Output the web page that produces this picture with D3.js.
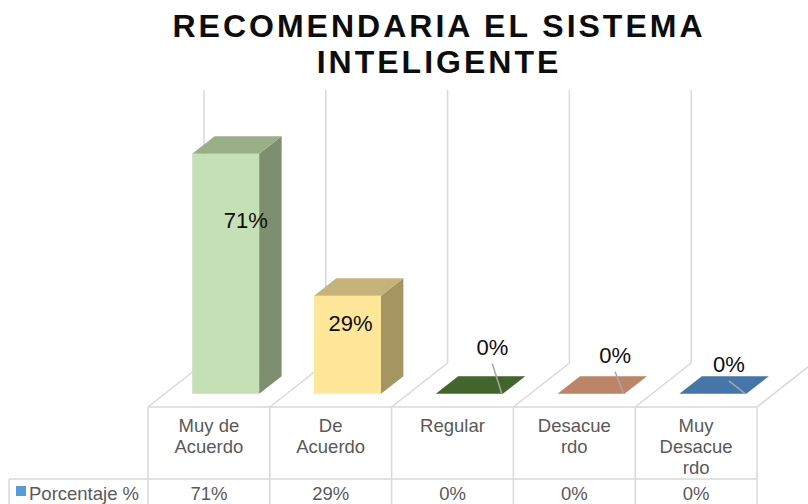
<!DOCTYPE html>
<html>
<head>
<meta charset="utf-8">
<script src="https://cdn.jsdelivr.net/npm/d3@7"></script>
<style>
  body { margin: 0; background: #fff; }
  svg { display: block; font-family: "Liberation Sans", Arial, sans-serif; }
</style>
</head>
<body>
<script>
// data
const categories = ['Muy de Acuerdo', 'De Acuerdo', 'Regular', 'Desacuerdo', 'Muy Desacuerdo']
const tickLabels = [['Muy de', 'Acuerdo'], ['De', 'Acuerdo'], ['Regular'], ['Desacue', 'rdo'], ['Muy', 'Desacue', 'rdo']]
const values = [71, 29, 0, 0, 0]
const seriesName = 'Porcentaje %'
const title = ['RECOMENDARIA EL SISTEMA', 'INTELIGENTE']

// styles
const fronts = ['#c5e0b4', '#ffe699', '#548235', '#f4b183', '#2e75b6']
const tops = ['#98af88', '#c6b37b', '#41652a', '#bd8567', '#4676a9']
const sides = ['#7e8f6f', '#a59661', '#34521f', '#a06e55', '#285f94']
// manual label placement, like the original (dx, dy from front-top centre of bar)
const labelNudge = [[20, 74], [3, 35], [23, -39], [24, -31], [16, -22]]

const WIDTH = 808
const HEIGHT = 504
const FLOOR_FRONT = 407
const DEPTH_DX = 56, DEPTH_DY = -44 // full floor depth
const WALL_TOP = 90
const BAR_W = 67
const BAR_Z0 = 0.3, BAR_Z = 0.4
const TABLE_FONT = 18.5

const svg = d3.select('body').append('svg').attr('width', WIDTH).attr('height', HEIGHT)

const x = d3.scaleBand().domain(categories).range([148, 757]).padding(0)
const base = FLOOR_FRONT + BAR_Z0 * DEPTH_DY
const y = d3.scaleLinear().domain([0, 80]).range([base, base - 80 * 3.38])

const bounds = categories.map(c => x(c)).concat([x.range()[1]])
const grid = '#d9d9d9'

// back wall lines
svg.selectAll('line.wall').data(bounds).enter().append('line')
  .attr('x1', d => d + DEPTH_DX).attr('x2', d => d + DEPTH_DX)
  .attr('y1', WALL_TOP).attr('y2', FLOOR_FRONT + DEPTH_DY)
  .attr('stroke', grid).attr('stroke-width', 1.5)

// floor lines
svg.selectAll('line.floor').data(bounds).enter().append('line')
  .attr('x1', d => d).attr('y1', FLOOR_FRONT)
  .attr('x2', d => d + DEPTH_DX).attr('y2', FLOOR_FRONT + DEPTH_DY)
  .attr('stroke', grid).attr('stroke-width', 1.5)

// data table
svg.append('line').attr('x1', x.range()[0]).attr('x2', x.range()[1])
  .attr('y1', FLOOR_FRONT).attr('y2', FLOOR_FRONT).attr('stroke', grid).attr('stroke-width', 1.5)
svg.append('line').attr('x1', 9).attr('x2', x.range()[1])
  .attr('y1', 479).attr('y2', 479).attr('stroke', grid).attr('stroke-width', 1.5)
svg.append('line').attr('x1', 9).attr('x2', 9)
  .attr('y1', 479).attr('y2', HEIGHT).attr('stroke', grid).attr('stroke-width', 1.5)
svg.selectAll('line.tab').data(bounds).enter().append('line')
  .attr('x1', d => d).attr('x2', d => d)
  .attr('y1', FLOOR_FRONT).attr('y2', HEIGHT)
  .attr('stroke', grid).attr('stroke-width', 1.5)

const head = svg.selectAll('text.head').data(categories).enter().append('text')
  .attr('text-anchor', 'middle').attr('font-size', TABLE_FONT).attr('fill', '#595959')
head.selectAll('tspan').data((d, i) => tickLabels[i]).enter().append('tspan')
  .attr('x', function () { const c = d3.select(this.parentNode).datum(); return x(c) + x.bandwidth() / 2 })
  .attr('y', (d, i) => 432 + i * 21)
  .text(d => d)

svg.selectAll('text.val').data(categories).enter().append('text')
  .attr('x', d => x(d) + x.bandwidth() / 2).attr('y', 500)
  .attr('text-anchor', 'middle').attr('font-size', TABLE_FONT).attr('fill', '#595959')
  .text((d, i) => values[i] + '%')

svg.append('rect').attr('x', 16).attr('y', 486).attr('width', 10).attr('height', 10).attr('fill', '#5b9bd5')
svg.append('text').attr('x', 29).attr('y', 500).attr('font-size', TABLE_FONT).attr('fill', '#595959').text(seriesName)

// bars
const bx = c => x(c) + BAR_Z0 * DEPTH_DX + (x.bandwidth() - BAR_W) / 2
const ddx = BAR_Z * DEPTH_DX, ddy = BAR_Z * DEPTH_DY
const bars = svg.selectAll('g.bar').data(categories).enter().append('g')

bars.append('rect')
  .attr('x', bx).attr('y', (d, i) => y(values[i]))
  .attr('width', BAR_W).attr('height', (d, i) => y(0) - y(values[i]))
  .attr('fill', (d, i) => fronts[i])

bars.append('path')
  .attr('d', (d, i) => {
    const l = bx(d) + BAR_W, t = y(values[i]), b = y(0)
    return `M${l},${t}L${l + ddx},${t + ddy}L${l + ddx},${b + ddy}L${l},${b}Z`
  })
  .attr('fill', (d, i) => sides[i])

bars.append('path')
  .attr('d', (d, i) => {
    const l = bx(d), t = y(values[i])
    return `M${l},${t}L${l + BAR_W},${t}L${l + BAR_W + ddx},${t + ddy}L${l + ddx},${t + ddy}Z`
  })
  .attr('fill', (d, i) => tops[i])

// data labels
const lx = (d, i) => bx(d) + BAR_W / 2 + labelNudge[i][0]
const ly = (d, i) => y(values[i]) + labelNudge[i][1]

bars.filter((d, i) => values[i] === 0).append('line')
  .attr('x1', d => lx(d, categories.indexOf(d)))
  .attr('y1', d => ly(d, categories.indexOf(d)) + 9)
  .attr('x2', d => bx(d) + BAR_W - 1)
  .attr('y2', d => y(values[categories.indexOf(d)]))
  .attr('stroke', '#a6a6a6').attr('stroke-width', 1.5)

bars.append('text')
  .attr('x', (d, i) => lx(d, i)).attr('y', (d, i) => ly(d, i))
  .attr('text-anchor', 'middle').attr('font-size', 22).attr('fill', '#0d0d0d')
  .text((d, i) => values[i] + '%')

// title
svg.append('text').attr('text-anchor', 'middle').attr('font-size', 32).attr('font-weight', 'bold')
  .attr('letter-spacing', 3).attr('fill', '#0d0d0d')
  .selectAll('tspan').data(title).enter().append('tspan')
  .attr('x', 439).attr('y', (d, i) => 37 + i * 36)
  .text(d => d)
</script>
</body>
</html>
